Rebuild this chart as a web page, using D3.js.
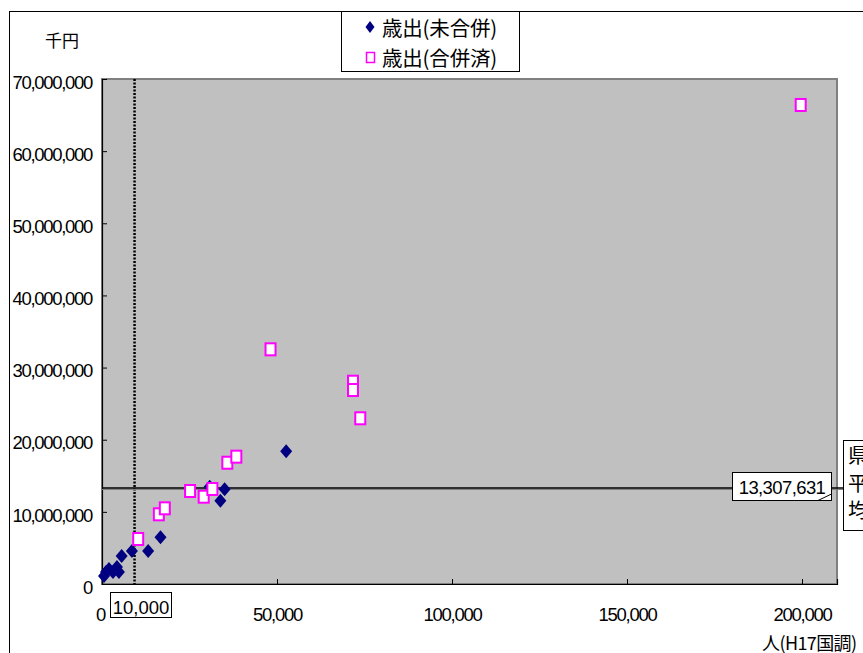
<!DOCTYPE html>
<html><head><meta charset="utf-8">
<script src="https://cdn.jsdelivr.net/npm/d3@7"></script>
<style>body{margin:0;background:#fff}svg{display:block}</style>
</head><body>
<svg id="c" width="863" height="653"></svg>
<script>
// Data (population, expenditure in 千円)
const unmergedX = [570, 1140, 1990, 3130, 4270, 4840, 5610, 8550, 13190, 16720, 30770, 33820, 35040, 52620];
const unmergedY = [1110000, 1660000, 2080000, 1660000, 2360000, 1660000, 3880000, 4570000, 4570000, 6470000, 13490000, 11550000, 13130000, 18390000];
const mergedX = [10340, 16240, 17950, 25160, 29060, 31540, 35810, 38380, 48150, 71710, 71710, 73790, 199630];
const mergedY = [6240000, 9660000, 10490000, 12890000, 12100000, 13170000, 16810000, 17650000, 32530000, 28040000, 26890000, 22970000, 66400000];
const seriesNames = ["歳出(未合併)", "歳出(合併済)"];
const xTicks = [0, 50000, 100000, 150000, 200000];
const yTicks = [0, 10000000, 20000000, 30000000, 40000000, 50000000, 60000000, 70000000];
const prefAverage = 13307631;
const prefAverageLabel = "13,307,631";
const prefAverageName = ["県", "平", "均"];
const thresholdPop = 9300;
const thresholdLabel = "10,000";
const yUnit = "千円";
const xUnit = "人(H17国調)";

const svg = d3.select("#c");
const x = d3.scaleLinear().domain([0, 210000]).range([102, 837]);
const y = d3.scaleLinear().domain([0, 70000000]).range([584, 79]);
const fmt = d3.format(",");
const numFont = "'Liberation Sans', Arial, sans-serif";
const jpFont = "'Noto Sans CJK JP', sans-serif";

function diamondPath(hw, hh) {
  const p = d3.path();
  p.moveTo(0, -hh); p.lineTo(hw, 0); p.lineTo(0, hh); p.lineTo(-hw, 0); p.closePath();
  return p.toString();
}

// outer chart border
svg.append("rect").attr("x", 9.5).attr("y", 11.5).attr("width", 900).attr("height", 700)
  .attr("fill", "#fff").attr("stroke", "#000").attr("stroke-width", 1);

// plot area
svg.append("rect").attr("x", x(0)).attr("y", y(70000000))
  .attr("width", x(210000) - x(0)).attr("height", y(0) - y(70000000))
  .attr("fill", "#C0C0C0").attr("stroke", "#808080").attr("stroke-width", 2);

// axes
const yAxis = d3.axisLeft(y).tickValues(yTicks).tickSize(-5).tickFormat(fmt).tickPadding(10);
const gy = svg.append("g").attr("transform", `translate(${x(0)},0)`).call(yAxis);
gy.select(".domain").attr("stroke", "#000").attr("stroke-width", 1.2);
gy.selectAll(".tick line").attr("stroke", "#000");
gy.selectAll(".tick text").attr("font-family", numFont).attr("font-size", 18.5)
  .attr("letter-spacing", "-1.3px").attr("fill", "#000").attr("dy", "0.5em");

const xAxis = d3.axisBottom(x).tickValues(xTicks).tickSize(-5).tickFormat(fmt).tickPadding(24);
const gx = svg.append("g").attr("transform", `translate(0,${y(0)})`).call(xAxis);
gx.select(".domain").attr("stroke", "#000").attr("stroke-width", 1.2);
gx.selectAll(".tick line").attr("stroke", "#000");
gx.selectAll(".tick text").attr("font-family", numFont).attr("font-size", 18.5)
  .attr("letter-spacing", "-1.3px").attr("fill", "#000");
gx.selectAll(".tick text").filter(d => d === 0).attr("dx", "-2");

// threshold dotted line
svg.append("line").attr("x1", x(thresholdPop)).attr("x2", x(thresholdPop))
  .attr("y1", y(70000000)).attr("y2", y(0))
  .attr("stroke", "#000").attr("stroke-width", 2.5).attr("stroke-dasharray", "2,1.5");
svg.append("rect").attr("x", 110.5).attr("y", 592.5).attr("width", 61).attr("height", 25)
  .attr("fill", "#fff").attr("stroke", "#000").attr("stroke-width", 1);
svg.append("text").attr("x", 141).attr("y", 614).attr("text-anchor", "middle")
  .attr("font-family", numFont).attr("font-size", 18.5).attr("letter-spacing", "0px")
  .text(thresholdLabel);

// prefecture average line
const ya = y(prefAverage);
svg.append("line").attr("x1", x(0)).attr("x2", 843).attr("y1", ya + 1.5).attr("y2", ya + 1.5)
  .attr("stroke", "#808080").attr("stroke-width", 1);
svg.append("line").attr("x1", x(0)).attr("x2", 843).attr("y1", ya).attr("y2", ya)
  .attr("stroke", "#000").attr("stroke-width", 1.3);
svg.append("rect").attr("x", 732.5).attr("y", 472.5).attr("width", 99).attr("height", 28)
  .attr("fill", "#fff").attr("stroke", "#000").attr("stroke-width", 1);
svg.append("path").attr("d", "M818,500.5 L831.5,494 L831.5,500.5 Z").attr("fill", "#fff").attr("stroke", "#000");
svg.append("text").attr("x", 782).attr("y", 494).attr("text-anchor", "middle")
  .attr("font-family", numFont).attr("font-size", 18.5).attr("letter-spacing", "-0.6px")
  .text(prefAverageLabel);
svg.append("rect").attr("x", 843.5).attr("y", 440.5).attr("width", 40).attr("height", 90)
  .attr("fill", "#fff").attr("stroke", "#000").attr("stroke-width", 1);
svg.selectAll("text.pa").data(prefAverageName).join("text").attr("class", "pa")
  .attr("x", 848).attr("y", (d, i) => [463, 491, 518][i])
  .attr("font-family", jpFont).attr("font-size", 20).text(d => d);

// series
svg.append("g").selectAll("path").data(unmergedX.map((v, i) => [v, unmergedY[i]])).join("path")
  .attr("transform", d => `translate(${x(d[0])},${y(d[1])})`)
  .attr("d", diamondPath(6, 7)).attr("fill", "#000080");
svg.append("g").selectAll("rect").data(mergedX.map((v, i) => [v, mergedY[i]])).join("rect")
  .attr("x", d => x(d[0]) - 5).attr("y", d => y(d[1]) - 6)
  .attr("width", 10).attr("height", 12)
  .attr("fill", "#fff").attr("stroke", "#FF00FF").attr("stroke-width", 2);

// legend
svg.append("rect").attr("x", 341.5).attr("y", 11.5).attr("width", 178).attr("height", 60)
  .attr("fill", "#fff").attr("stroke", "#000").attr("stroke-width", 1);
svg.append("path").attr("transform", "translate(370,27)")
  .attr("d", diamondPath(4.5, 6)).attr("fill", "#000080");
svg.append("rect").attr("x", 366.5).attr("y", 52.5).attr("width", 8).attr("height", 10)
  .attr("fill", "#fff").attr("stroke", "#FF00FF").attr("stroke-width", 1.5);
svg.selectAll("text.lg").data(seriesNames).join("text").attr("class", "lg")
  .attr("x", 382).attr("y", (d, i) => 36 + i * 30)
  .attr("font-family", jpFont).attr("font-size", 20.5).attr("letter-spacing", "-0.2px").text(d => d);

// unit labels
svg.append("text").attr("x", 45).attr("y", 47).attr("font-family", jpFont).attr("font-size", 17).text(yUnit);
svg.append("text").attr("x", 762).attr("y", 650).attr("font-family", jpFont).attr("font-size", 18)
  .attr("letter-spacing", "-0.6px").text(xUnit);
</script>
</body></html>
